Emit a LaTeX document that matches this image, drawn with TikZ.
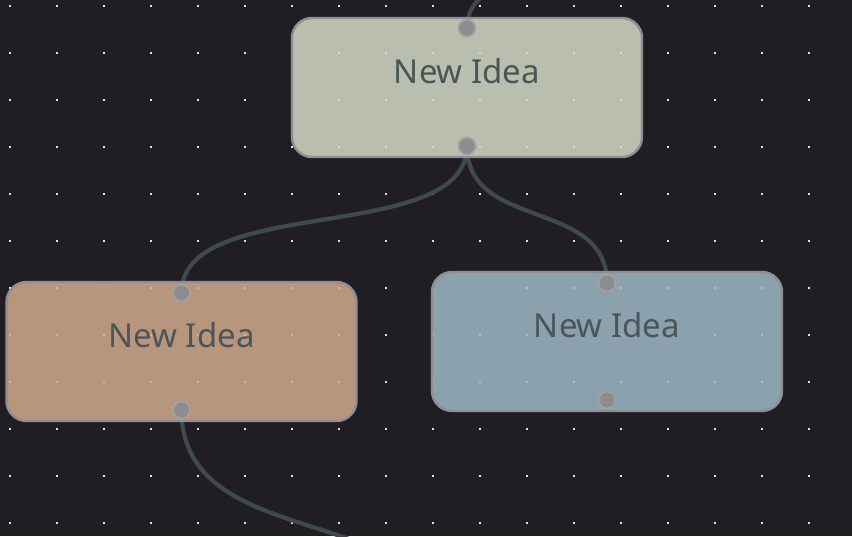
\documentclass[tikz,border=0pt]{standalone}
\usepackage{fontspec}
\setmainfont{Noto Sans}
\definecolor{bgc}{RGB}{32,30,35}
\definecolor{dotc}{RGB}{228,228,228}
\definecolor{edgec}{RGB}{62,74,76}
\definecolor{borderc}{RGB}{143,143,147}
\definecolor{portc}{RGB}{141,140,145}
\definecolor{portring}{RGB}{163,163,160}
\definecolor{textc}{RGB}{74,85,88}
\definecolor{topc}{RGB}{212,219,199}
\definecolor{leftc}{RGB}{211,172,143}
\definecolor{rightc}{RGB}{158,185,199}
\pgfdeclarelayer{bgl}
\pgfdeclarelayer{edgel}
\pgfsetlayers{bgl,edgel,main}
\tikzset{
  idea/.style={draw=borderc, line width=2.4pt, rounded corners=20pt,
    minimum width=350pt, minimum height=139pt, inner sep=0pt, outer sep=0pt,
    fill opacity=0.85, text opacity=1},
  ideatext/.style={text=textc, inner sep=0pt, anchor=base,
    font=\fontsize{33}{38}\selectfont},
  edge/.style={draw=edgec, line width=4.2pt},
  port/.style={circle, fill=portc, draw=portring, line width=1.6pt,
    minimum size=17pt, inner sep=0pt},
}
\begin{document}
\begin{tikzpicture}[x=1pt,y=-1pt]
\useasboundingbox (0,0) rectangle (852,536);
\begin{pgfonlayer}{bgl}
\fill[bgc] (0,0) rectangle (852,536);
\foreach \i in {0,...,17}{
  \foreach \j in {0,...,11}{
    \fill[dotc] ({10+47*\i-1.2},{6+47*\j-1.2}) rectangle ++(2.4,2.4);
  }
}
\end{pgfonlayer}
% nodes
\node[idea, fill=topc] (top) at (467,87.5) {};
\node[idea, fill=leftc] (left) at (181.5,351.5) {};
\node[idea, fill=rightc] (right) at (607,341.5) {};
% ports
\node[port] (topin) at ([yshift=-10pt]top.north) {};
\node[port] (topout) at ([yshift=11pt]top.south) {};
\node[port] (leftin) at ([yshift=-11pt]left.north) {};
\node[port] (leftout) at ([yshift=11pt]left.south) {};
\node[port] (rightin) at ([yshift=-11pt]right.north) {};
\node[port] (rightout) at ([yshift=11pt]right.south) {};
\coordinate (parent) at (667,-95);
\coordinate (child) at (450,646);
% edges (behind the nodes)
\begin{pgfonlayer}{edgel}
\begin{scope}
\clip (0,0) rectangle (852,536);
\draw[edge] (parent) .. controls +(0,80) and +(0,-80) .. (topin.center);
\draw[edge] (topout.center) .. controls +(0,100) and +(0,-100) .. (leftin.center);
\draw[edge] (topout.center) .. controls +(0,85) and +(0,-85) .. (rightin.center);
\draw[edge] (leftout.center) .. controls +(0,150) and +(0,-150) .. (child);
\end{scope}
\end{pgfonlayer}
% texts
\node[ideatext] (toptext) at ([yshift=-65pt]top.north) {New Idea};
\node[ideatext] (lefttext) at ([yshift=-65pt]left.north) {New Idea};
\node[ideatext] (righttext) at ([yshift=-65pt]right.north) {New Idea};
\end{tikzpicture}
\end{document}
